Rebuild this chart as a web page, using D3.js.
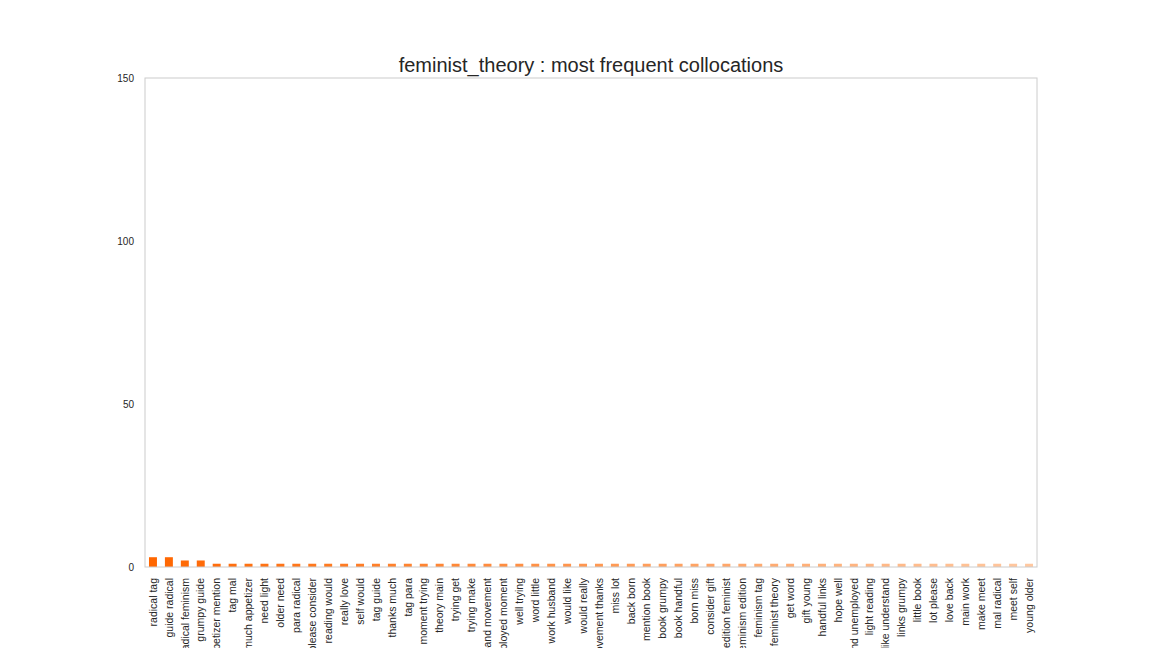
<!DOCTYPE html>
<html><head><meta charset="utf-8">
<script src="https://cdn.jsdelivr.net/npm/d3@7"></script>
<style>body{margin:0;background:#fff;} svg{display:block;font-family:"Liberation Sans",Arial,sans-serif;}</style>
</head><body>
<svg id="chart" width="1152" height="648"></svg>
<script>
const categories = ["radical tag","guide radical","radical feminism","grumpy guide","appetizer mention","tag mal","much appetizer","need light","older need","para radical","please consider","reading would","really love","self would","tag guide","thanks much","tag para","moment trying","theory main","trying get","trying make","husband movement","unemployed moment","well trying","word little","work husband","would like","would really","movement thanks","miss lot","back born","mention book","book grumpy","book handful","born miss","consider gift","edition feminist","feminism edition","feminism tag","feminist theory","get word","gift young","handful links","hope well","husband unemployed","light reading","like understand","links grumpy","little book","lot please","love back","main work","make meet","mal radical","meet self","young older"];
const values = [3,3,2,2,1,1,1,1,1,1,1,1,1,1,1,1,1,1,1,1,1,1,1,1,1,1,1,1,1,1,1,1,1,1,1,1,1,1,1,1,1,1,1,1,1,1,1,1,1,1,1,1,1,1,1,1];
const yTicks = [0,50,100,150];
const title = "feminist_theory : most frequent collocations";

const svg = d3.select("#chart");
const m = {left:145, right:1037, top:78, bottom:567};
const x = d3.scaleBand().domain(categories).range([m.left, m.right]).paddingInner(0.5).paddingOuter(0.25);
const y = d3.scaleLinear().domain([0,150]).range([m.bottom, m.top]);
const color = d3.scaleLinear().domain([0, categories.length-1]).range(["#ff6600","#ffc8a0"]).interpolate(d3.interpolateRgb);

svg.append("g").selectAll("rect").data(values).join("rect")
  .attr("x",(d,i)=>x(categories[i]))
  .attr("y",d=>y(d))
  .attr("width",x.bandwidth())
  .attr("height",d=>y(0)-y(d))
  .attr("fill",(d,i)=>color(i));

svg.append("rect").attr("x",m.left).attr("y",m.top).attr("width",m.right-m.left).attr("height",m.bottom-m.top)
  .attr("fill","none").attr("stroke","#cccccc").attr("stroke-width",1);

const ya = svg.append("g").attr("transform",`translate(${m.left},0)`)
  .call(d3.axisLeft(y).tickValues(yTicks).tickSize(0).tickPadding(11).tickFormat(d3.format("d")));
ya.select(".domain").remove();
ya.selectAll("text").attr("font-size","10px").attr("fill","#262626").attr("font-family","Liberation Sans, Arial, sans-serif");

const xa = svg.append("g").attr("transform",`translate(0,${m.bottom})`)
  .call(d3.axisBottom(x).tickSize(0).tickPadding(0));
xa.select(".domain").remove();
xa.selectAll("text")
  .attr("font-size","10.5px").attr("fill","#262626").attr("font-family","Liberation Sans, Arial, sans-serif")
  .attr("text-anchor","end").attr("dy","0.35em")
  .attr("transform","translate(0,11) rotate(-90)").attr("x",0).attr("y",0);

svg.append("text").attr("x",(m.left+m.right)/2).attr("y",72).attr("text-anchor","middle")
  .attr("font-size","20px").attr("fill","#262626").text(title);
</script>
</body></html>
